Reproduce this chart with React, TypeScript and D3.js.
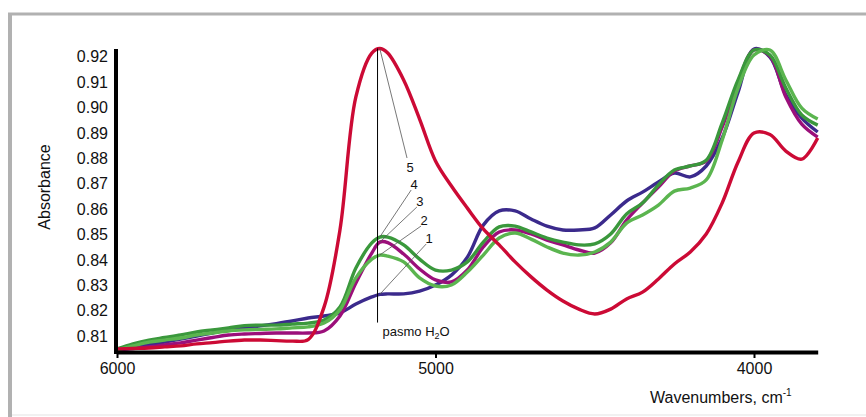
import React, { useEffect, useRef } from "react";
import * as d3 from "d3";

// wavenumber grid, cm-1 (extra point at 5175 near the water band)
const wavenumbers = [
  6000, 5950, 5900, 5850, 5800, 5750, 5700, 5650, 5600, 5550, 5500, 5450, 5400,
  5350, 5300, 5250, 5200, 5175, 5150, 5100, 5050, 5000, 4950, 4900, 4850, 4800,
  4750, 4700, 4650, 4600, 4550, 4500, 4450, 4400, 4350, 4300, 4250, 4200, 4150,
  4100, 4050, 4000, 3950, 3900, 3850, 3800,
];

const spectrum1 = [
  0.8045, 0.8053, 0.8065, 0.8076, 0.8088, 0.81, 0.8112, 0.8124, 0.8132, 0.814,
  0.8149, 0.8159, 0.8171, 0.8179, 0.8191, 0.8226, 0.8254, 0.8264, 0.8266,
  0.8266, 0.8277, 0.8301, 0.834, 0.8411, 0.8537, 0.8593, 0.8593, 0.8561,
  0.8533, 0.8518, 0.8518, 0.8526, 0.8577, 0.8632, 0.8667, 0.8707, 0.8742,
  0.8727, 0.877, 0.888, 0.9061, 0.9231, 0.9199, 0.905, 0.8959, 0.8904,
];
const spectrum2 = [
  0.8045, 0.8061, 0.8076, 0.8084, 0.8092, 0.8104, 0.8112, 0.812, 0.8124,
  0.8126, 0.8128, 0.8132, 0.8136, 0.8151, 0.8203, 0.8329, 0.8403, 0.8419,
  0.8415, 0.8392, 0.8329, 0.8297, 0.8301, 0.8352, 0.8419, 0.8486, 0.8506,
  0.8482, 0.8451, 0.8427, 0.8419, 0.8431, 0.847, 0.8545, 0.8577, 0.8616,
  0.8671, 0.8683, 0.8715, 0.8872, 0.9077, 0.9207, 0.9227, 0.9109, 0.8998,
  0.8955,
];
const spectrum3 = [
  0.8045, 0.8051, 0.8057, 0.8065, 0.8073, 0.8084, 0.8094, 0.8104, 0.8108,
  0.811, 0.8112, 0.8112, 0.8112, 0.812, 0.8179, 0.8309, 0.8427, 0.847, 0.8468,
  0.8423, 0.8364, 0.8321, 0.8313, 0.836, 0.8451, 0.851, 0.8518, 0.8502, 0.8478,
  0.8459, 0.8439, 0.8427, 0.8467, 0.8557, 0.8624, 0.8687, 0.875, 0.877, 0.879,
  0.8923, 0.9101, 0.9227, 0.9203, 0.9042, 0.8935, 0.8884,
];
const spectrum4 = [
  0.8049, 0.8069, 0.8084, 0.8094, 0.8104, 0.8116, 0.8124, 0.8132, 0.8141,
  0.8143, 0.8143, 0.8147, 0.8151, 0.8163, 0.8214, 0.8368, 0.8467, 0.849, 0.849,
  0.8459, 0.8403, 0.836, 0.836, 0.8392, 0.847, 0.853, 0.8533, 0.851, 0.8486,
  0.847, 0.8459, 0.8463, 0.8502, 0.8581, 0.8624, 0.8695, 0.8754, 0.877, 0.8793,
  0.8939, 0.9109, 0.9227, 0.9207, 0.9077, 0.8971, 0.8931,
];
const spectrum5 = [
  0.8049, 0.8051, 0.8053, 0.8057, 0.8061, 0.8069, 0.8074, 0.808, 0.8084,
  0.8084, 0.8082, 0.808, 0.8086, 0.8214, 0.8518, 0.9042, 0.9215, 0.9233,
  0.9215, 0.9109, 0.8955, 0.879, 0.8691, 0.8604, 0.8522, 0.8459, 0.8392,
  0.8333, 0.8281, 0.8238, 0.8206, 0.8187, 0.8206, 0.8246, 0.8273, 0.8325,
  0.8384, 0.8431, 0.8502, 0.8624, 0.8786, 0.89, 0.8894, 0.8829, 0.8797, 0.888,
];

const seriesLabels = ["1", "2", "3", "4", "5"];
const seriesColors = ["#3b2a8c", "#5bb54f", "#9b0f7a", "#3a983c", "#cc0a35"];
const drawOrder = [0, 2, 3, 1, 4];

// where the number labels sit, in data units
const labelWavenumbers = [5020, 5036, 5049, 5067, 5080];
const labelAbsorbance = [0.8486, 0.8557, 0.8632, 0.8699, 0.8766];

const xTicks = [6000, 5000, 4000];
const yTicks = [0.81, 0.82, 0.83, 0.84, 0.85, 0.86, 0.87, 0.88, 0.89, 0.9, 0.91, 0.92];

const waterBand = 5182; // "pasmo H2O" marker
const waterBandBottom = 0.8153;
const peakIndex = wavenumbers.indexOf(5175);

const App = () => {
  const svgRef = useRef<SVGSVGElement>(null);

  useEffect(() => {
    const svg = d3.select(svgRef.current);
    svg.selectAll("*").remove();

    const width = 866;
    const height = 417;
    const font = "Liberation Sans, Arial, sans-serif";

    // frame
    svg.append("line").attr("x1", 8).attr("x2", width).attr("y1", 14).attr("y2", 14)
      .attr("stroke", "#b1b1b1").attr("stroke-width", 3);
    svg.append("line").attr("x1", 10).attr("x2", 10).attr("y1", 13).attr("y2", height)
      .attr("stroke", "#b1b1b1").attr("stroke-width", 4);
    svg.append("line").attr("x1", 12).attr("x2", width).attr("y1", 415).attr("y2", 415)
      .attr("stroke", "#ececec").attr("stroke-width", 1.5);

    const x = d3.scaleLinear().domain([6000, 3800]).range([117, 817.7]);
    const y = d3.scaleLinear().domain([0.8037, 0.9231]).range([352, 49]);

    // curves
    const line = d3
      .line<number>()
      .x((_, i) => x(wavenumbers[i]))
      .y((d) => y(d))
      .curve(d3.curveCatmullRom.alpha(0.5));

    const spectra = [spectrum1, spectrum2, spectrum3, spectrum4, spectrum5];
    drawOrder.forEach((k) => {
      svg.append("path")
        .datum(spectra[k])
        .attr("d", line)
        .attr("fill", "none")
        .attr("stroke", seriesColors[k])
        .attr("stroke-width", 3.4)
        .attr("stroke-linejoin", "round");
    });

    // x axis
    const xAxis = svg.append("g")
      .attr("transform", "translate(0,352)")
      .call(d3.axisBottom(x).tickValues(xTicks).tickSize(6).tickSizeOuter(0).tickPadding(5)
        .tickFormat((d) => String(d)));
    xAxis.select(".domain").attr("stroke", "#000").attr("stroke-width", 4);
    xAxis.selectAll(".tick line").attr("stroke", "#000").attr("stroke-width", 2);
    xAxis.selectAll(".tick text").attr("font-family", font).attr("font-size", 16).attr("fill", "#111");

    // y axis
    const yAxis = svg.append("g")
      .attr("transform", "translate(116,0)")
      .call(d3.axisLeft(y).tickValues(yTicks).tickSize(0).tickSizeOuter(0).tickPadding(8)
        .tickFormat(d3.format(".2f")));
    yAxis.select(".domain").attr("stroke", "#000").attr("stroke-width", 4)
      .attr("d", `M0,49V354`);
    yAxis.selectAll(".tick text").attr("font-family", font).attr("font-size", 16).attr("fill", "#111");

    // axis titles
    svg.append("text")
      .attr("transform", "translate(50,187) rotate(-90)")
      .attr("text-anchor", "middle")
      .attr("font-family", font).attr("font-size", 16).attr("fill", "#111")
      .text("Absorbance");

    const xt = svg.append("text")
      .attr("x", 650).attr("y", 403)
      .attr("font-family", font).attr("font-size", 16).attr("fill", "#111");
    xt.append("tspan").text("Wavenumbers, cm");
    xt.append("tspan").attr("font-size", 10).attr("dy", -7).text("-1");

    // water band marker
    svg.append("line")
      .attr("x1", x(waterBand)).attr("x2", x(waterBand))
      .attr("y1", y(spectrum5[peakIndex])).attr("y2", y(waterBandBottom))
      .attr("stroke", "#000").attr("stroke-width", 1);

    const wt = svg.append("text")
      .attr("x", x(waterBand) + 5).attr("y", y(waterBandBottom) + 13)
      .attr("font-family", font).attr("font-size", 13).attr("fill", "#111");
    wt.append("tspan").text("pasmo H");
    wt.append("tspan").attr("font-size", 9).attr("dy", 3).text("2");
    wt.append("tspan").attr("dy", -3).text("O");

    // numbered leaders
    seriesLabels.forEach((lab, k) => {
      const lx = x(labelWavenumbers[k]);
      const ly = y(labelAbsorbance[k]);
      const isTop = k === 4;
      svg.append("line")
        .attr("x1", x(wavenumbers[peakIndex]))
        .attr("y1", y(spectra[k][peakIndex]))
        .attr("x2", lx - 3)
        .attr("y2", isTop ? ly - 9 : ly + 6)
        .attr("stroke", "#555")
        .attr("stroke-width", 0.8);
      svg.append("text")
        .attr("x", lx).attr("y", ly)
        .attr("dy", "0.35em")
        .attr("text-anchor", "middle")
        .attr("font-family", font).attr("font-size", 13).attr("fill", "#111")
        .text(lab);
    });
  }, []);

  return (
    <svg
      ref={svgRef}
      width={866}
      height={417}
      style={{ position: "absolute", left: 0, top: 0, background: "#fff" }}
    ></svg>
  );
};

export default App;
